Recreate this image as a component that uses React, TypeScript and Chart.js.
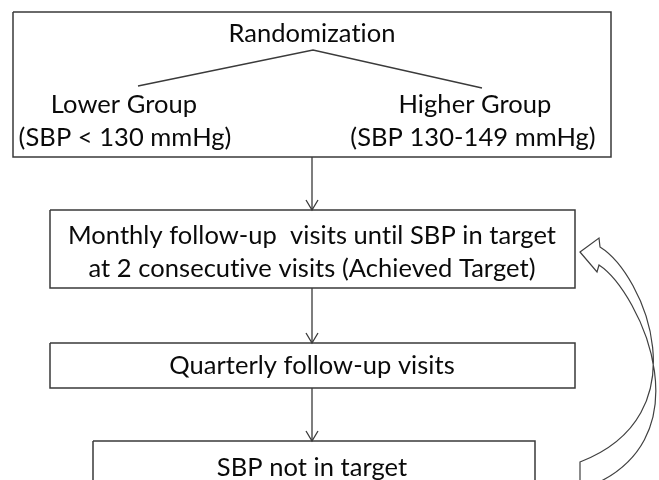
import React, { useEffect, useRef } from "react";
import { Chart, registerables } from "chart.js";

Chart.register(...registerables);

const WIDTH = 659;
const HEIGHT = 480;

// Flowchart boxes (diagram units)
const boxLeft = [13, 50, 50, 93];
const boxRight = [611, 575, 575, 535];
const boxTop = [12, 210, 343, 441];
const boxBottom = [157, 288, 388, 515];

// Text labels
const textLines = [
  "Randomization",
  "Lower Group",
  "(SBP < 130 mmHg)",
  "Higher Group",
  "(SBP 130-149 mmHg)",
  "Monthly follow-up  visits until SBP in target",
  "at 2 consecutive visits (Achieved Target)",
  "Quarterly follow-up visits",
  "SBP not in target",
];
const textX = [312, 124, 125, 475, 473, 312, 312, 312, 312];
const textY = [42, 113, 146, 113, 146, 244, 277, 374, 476];

// Randomization branch lines
const branchX = [138, 313, 482];
const branchY = [86, 50, 88];

// Downward flow arrows (from box i to box i+1)
const flowX = 312;
const flowFrom = [0, 1, 2];
const flowTo = [1, 2, 3];

// Curved return arrow (SBP not in target -> Monthly follow-up)
const headX = [580, 599, 600];
const headY = [252, 238, 247];
const headLowX = [597, 599];
const headLowY = [272, 265];
const arcAX = [600, 645, 702, 580];
const arcAY = [247, 275, 415, 462];
const arcBX = [599, 640, 712, 580];
const arcBY = [265, 292, 445, 490];

const LINE = "#3a3a3a";
const TEXT = "#0a0a0a";
const FONT = "25.5px Lato, 'Noto Sans', sans-serif";

function rectPoints(i: number) {
  return [
    { x: boxLeft[i], y: boxTop[i] },
    { x: boxRight[i], y: boxTop[i] },
    { x: boxRight[i], y: boxBottom[i] },
    { x: boxLeft[i], y: boxBottom[i] },
    { x: boxLeft[i], y: boxTop[i] },
  ];
}

const diagramPlugin = {
  id: "diagram",
  beforeDraw(chart: any) {
    const ctx = chart.ctx;
    ctx.save();
    ctx.fillStyle = "#ffffff";
    ctx.fillRect(0, 0, chart.width, chart.height);
    ctx.restore();
  },
  afterDatasetsDraw(chart: any) {
    const ctx = chart.ctx as any;
    const xs = chart.scales.x;
    const ys = chart.scales.y;
    const px = (v: number) => xs.getPixelForValue(v);
    const py = (v: number) => ys.getPixelForValue(v);

    ctx.save();
    // arrowheads of flow arrows
    ctx.strokeStyle = LINE;
    ctx.lineWidth = 1.3;
    flowTo.forEach((t) => {
      const tipX = px(flowX);
      const tipY = py(boxTop[t]);
      ctx.beginPath();
      ctx.moveTo(tipX - 6, tipY - 10);
      ctx.lineTo(tipX, tipY);
      ctx.lineTo(tipX + 6, tipY - 10);
      ctx.stroke();
    });

    // curved block arrow
    ctx.beginPath();
    ctx.moveTo(px(headX[0]), py(headY[0]));
    ctx.lineTo(px(headX[1]), py(headY[1]));
    ctx.lineTo(px(headX[2]), py(headY[2]));
    ctx.bezierCurveTo(px(arcAX[1]), py(arcAY[1]), px(arcAX[2]), py(arcAY[2]), px(arcAX[3]), py(arcAY[3]));
    ctx.lineTo(px(arcBX[3]), py(arcBY[3]));
    ctx.bezierCurveTo(px(arcBX[2]), py(arcBY[2]), px(arcBX[1]), py(arcBY[1]), px(arcBX[0]), py(arcBY[0]));
    ctx.lineTo(px(headLowX[0]), py(headLowY[0]));
    ctx.closePath();
    ctx.fillStyle = "#ffffff";
    ctx.fill();
    ctx.strokeStyle = "#404040";
    ctx.lineWidth = 1.2;
    ctx.stroke();

    // text
    ctx.fillStyle = TEXT;
    ctx.font = FONT;
    if ("letterSpacing" in ctx) ctx.letterSpacing = "0.05px";
    ctx.textAlign = "center";
    ctx.textBaseline = "alphabetic";
    textLines.forEach((t, i) => {
      ctx.fillText(t, px(textX[i]), py(textY[i]));
    });
    ctx.restore();
  },
};

export default function App() {
  const ref = useRef<HTMLCanvasElement | null>(null);

  useEffect(() => {
    document.body.style.margin = "0";
    const canvas = ref.current;
    if (!canvas) return;

    const boxDatasets = boxLeft.map((_, i) => ({
      type: "line" as const,
      label: "box" + i,
      data: rectPoints(i),
      borderColor: LINE,
      borderWidth: 1.5,
      pointRadius: 0,
      showLine: true,
      fill: false,
      tension: 0,
    }));

    const branchDataset = {
      type: "line" as const,
      label: "branch",
      data: branchX.map((x, i) => ({ x, y: branchY[i] })),
      borderColor: LINE,
      borderWidth: 1.3,
      pointRadius: 0,
      showLine: true,
      fill: false,
      tension: 0,
    };

    const flowData: any[] = [];
    flowFrom.forEach((f, i) => {
      flowData.push({ x: flowX, y: boxBottom[f] });
      flowData.push({ x: flowX, y: boxTop[flowTo[i]] });
      flowData.push({ x: flowX, y: null });
    });
    const flowDataset = {
      type: "line" as const,
      label: "flow",
      data: flowData,
      borderColor: LINE,
      borderWidth: 1.3,
      pointRadius: 0,
      showLine: true,
      spanGaps: false,
      fill: false,
      tension: 0,
    };

    const chart = new Chart(canvas, {
      type: "scatter",
      data: { datasets: [...boxDatasets, branchDataset, flowDataset] as any },
      options: {
        responsive: false,
        maintainAspectRatio: false,
        animation: false,
        events: [],
        layout: { padding: 0 },
        plugins: { legend: { display: false }, tooltip: { enabled: false } },
        scales: {
          x: { type: "linear", min: 0, max: WIDTH, display: false },
          y: { type: "linear", min: 0, max: HEIGHT, reverse: true, display: false },
        },
      },
      plugins: [diagramPlugin],
    });
    return () => chart.destroy();
  }, []);

  return (
    <div style={{ position: "absolute", left: 0, top: 0, width: WIDTH, height: HEIGHT }}>
      <canvas ref={ref} width={WIDTH} height={HEIGHT} />
    </div>
  );
}
